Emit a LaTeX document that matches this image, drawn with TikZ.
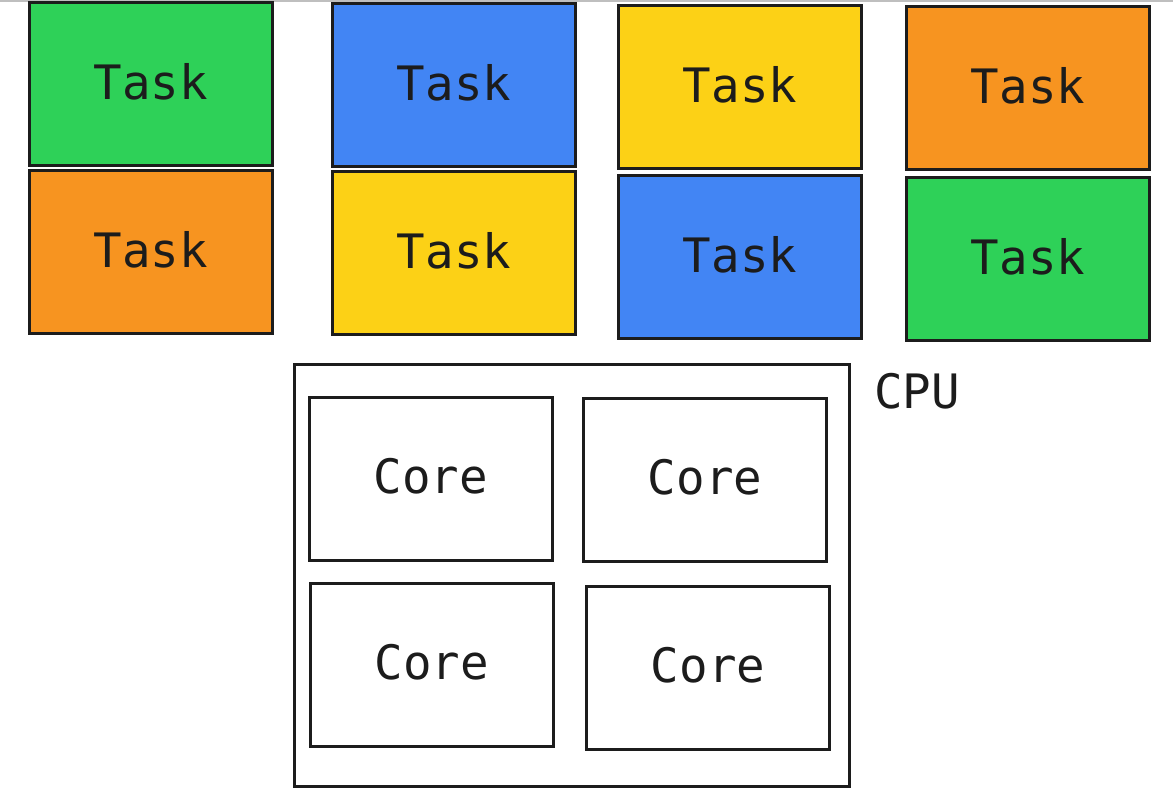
\documentclass[tikz,border=0pt]{standalone}
\usepackage{fontspec}
\setmainfont{DejaVu Sans Mono}
\definecolor{taskgreen}{HTML}{2ED158}
\definecolor{taskblue}{HTML}{4285F4}
\definecolor{taskyellow}{HTML}{FCD116}
\definecolor{taskorange}{HTML}{F79420}
\definecolor{inkdark}{HTML}{1C1C1C}
\begin{document}
\begin{tikzpicture}[x=0.02cm, y=-0.02cm,
    box/.style={draw=inkdark, line width=1.7pt, minimum width=4.88cm, minimum height=3.26cm,
        text=inkdark, font=\fontsize{27}{30}\selectfont, inner sep=0pt, text depth=0.12cm},
    task/.style={box, fill=#1},
    core/.style={box, fill=white}]
    \useasboundingbox (0,0) rectangle (1173,791);
    \draw[line width=1.2pt, gray!50] (0,1) -- (1173,1);

    % Tasks
    \node[task=taskgreen]  (t11) at (151,84)  {Task};
    \node[task=taskorange] (t12) at (151,252) {Task};
    \node[task=taskblue]   (t21) at (454,85)  {Task};
    \node[task=taskyellow] (t22) at (454,253) {Task};
    \node[task=taskyellow] (t31) at (740,87)  {Task};
    \node[task=taskblue]   (t32) at (740,257) {Task};
    \node[task=taskorange] (t41) at (1028,88) {Task};
    \node[task=taskgreen]  (t42) at (1028,259) {Task};

    % CPU
    \node[draw=inkdark, line width=1.7pt, minimum width=11.12cm, minimum height=8.46cm, inner sep=0pt]
        (cpu) at (572,575.5) {};
    \node[text=inkdark, font=\fontsize{27}{30}\selectfont, anchor=west] (cpulabel) at (868,391) {CPU};

    % Cores
    \node[core] (c11) at (431,479) {Core};
    \node[core] (c12) at (705,480) {Core};
    \node[core] (c21) at (432,665) {Core};
    \node[core] (c22) at (708,668) {Core};
\end{tikzpicture}
\end{document}
